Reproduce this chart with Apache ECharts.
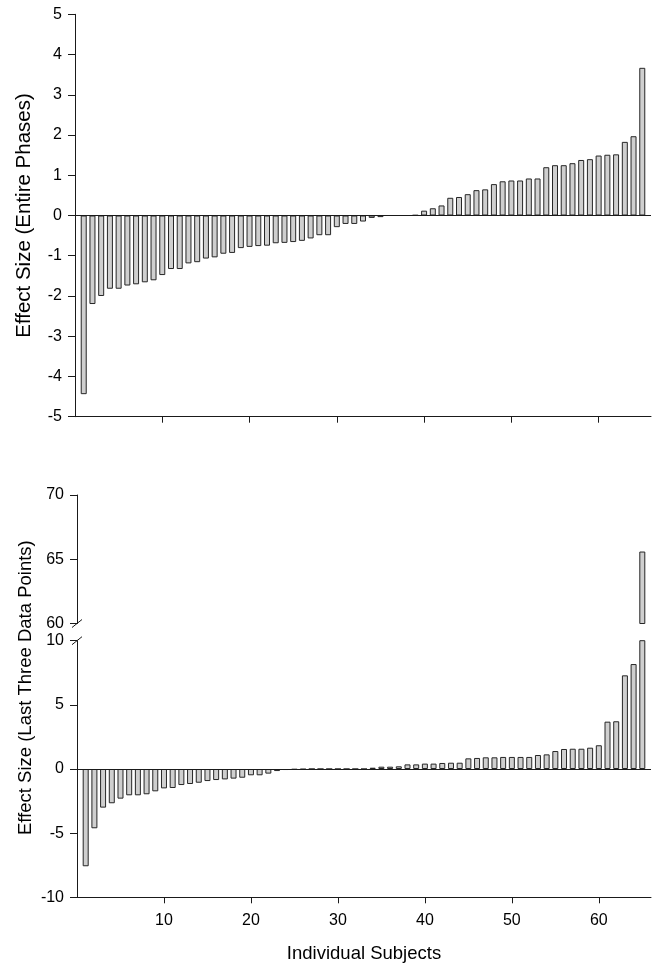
<!DOCTYPE html>
<html><head><meta charset="utf-8">
<script src="https://cdn.jsdelivr.net/npm/echarts@6/dist/echarts.min.js"></script>
<style>html,body{margin:0;padding:0;background:#fff}#c{width:662px;height:974px}</style>
</head><body><div id="c"></div>
<script>
// Subjects 1..65
const subjects = Array.from({length: 65}, (_, i) => i + 1);
// Effect size computed on entire phases (top panel)
const entirePhases = [
  -4.44,-2.20,-2.00,-1.82,-1.82,-1.74,-1.71,-1.66,-1.61,-1.48,
  -1.33,-1.33,-1.19,-1.16,-1.07,-1.04,-0.95,-0.93,-0.81,-0.78,
  -0.76,-0.75,-0.69,-0.68,-0.66,-0.63,-0.57,-0.49,-0.49,-0.29,
  -0.21,-0.21,-0.15,-0.06,-0.04,0,0,0,0.01,0.12,
  0.18,0.25,0.44,0.46,0.53,0.63,0.65,0.78,0.85,0.87,
  0.87,0.92,0.92,1.20,1.25,1.25,1.30,1.38,1.40,1.49,
  1.51,1.52,1.83,1.97,3.67
];
// Effect size computed on last three data points (bottom panel)
const lastThree = [
  -7.58,-4.62,-3.01,-2.67,-2.31,-2.05,-2.05,-1.97,-1.74,-1.51,
  -1.48,-1.25,-1.17,-1.07,-0.94,-0.86,-0.81,-0.75,-0.68,-0.49,
  -0.49,-0.36,-0.16,-0.08,-0.05,-0.03,0,0,0,0,
  0,0,0,0.10,0.18,0.18,0.21,0.36,0.36,0.42,
  0.42,0.47,0.49,0.49,0.83,0.86,0.91,0.91,0.94,0.94,
  0.94,0.94,1.09,1.14,1.40,1.56,1.58,1.58,1.66,1.85,
  3.69,3.72,7.30,8.18,65.6
];
const xTickValues = [10, 20, 30, 40, 50, 60];
const topYTicks = [-5, 5, 1];        // min, max, interval
const bottomUpperYTicks = [60, 70, 5];
const bottomLowerYTicks = [-10, 10, 5];

const FONT = "'Liberation Sans', Arial, sans-serif";
const AX = '#1a1a1a';
const BAR_FILL = '#cfcfcf';
const BAR_BORDER = '#262626';

const chart = echarts.init(document.getElementById('c'), null, {renderer: 'canvas'});

const pairs = arr => subjects.map((s, i) => [s, arr[i]]);
const lineStyle = {color: AX, width: 1};

function yAx(gridIndex, t, extra) {
  return Object.assign({
    gridIndex, type: 'value', min: t[0], max: t[1], interval: t[2],
    axisLine: {show: true, onZero: false, lineStyle},
    axisTick: {show: true, inside: false, length: 7, lineStyle},
    axisLabel: {fontSize: 16, color: '#000', margin: 13, fontFamily: FONT},
    splitLine: {show: false}
  }, extra || {});
}
const zeroLine = {
  silent: true, symbol: ['none', 'none'], label: {show: false},
  lineStyle: {color: AX, width: 1, type: 'solid'}, data: [{yAxis: 0}], animation: false
};
const barBase = {
  type: 'bar', barWidth: 6, clip: true, animation: false,
  itemStyle: {color: BAR_FILL, borderColor: BAR_BORDER, borderWidth: 1}
};

const option = {
  animation: false,
  backgroundColor: '#fff',
  textStyle: {fontFamily: FONT},
  grid: [
    {left: 75, top: 14.3, width: 576, height: 402.4},
    {left: 77, top: 495, width: 574, height: 128.5},
    {left: 77, top: 640.7, width: 574, height: 256.6}
  ],
  xAxis: [
    {gridIndex: 0, type: 'value', min: 0, max: 66, interval: 10,
     axisLine: {show: true, onZero: false, lineStyle},
     axisTick: {show: true, length: 6, lineStyle, customValues: xTickValues},
     axisLabel: {show: false}, splitLine: {show: false}},
    {gridIndex: 1, type: 'value', min: 0, max: 66, show: false},
    {gridIndex: 2, type: 'value', min: 0, max: 66, interval: 10,
     axisLine: {show: true, onZero: false, lineStyle},
     axisTick: {show: true, length: 6, lineStyle, customValues: xTickValues},
     axisLabel: {fontSize: 16, color: '#000', margin: 15, fontFamily: FONT, customValues: xTickValues},
     splitLine: {show: false},
     name: 'Individual Subjects', nameLocation: 'middle', nameGap: 47,
     nameTextStyle: {fontSize: 18.5, color: '#000', fontFamily: FONT}}
  ],
  yAxis: [
    yAx(0, topYTicks, {name: 'Effect Size (Entire Phases)', nameLocation: 'middle', nameGap: 40,
      nameTextStyle: {fontSize: 20.5, color: '#000', fontFamily: FONT}}),
    yAx(1, bottomUpperYTicks),
    yAx(2, bottomLowerYTicks)
  ],
  series: [
    Object.assign({}, barBase, {name: 'Entire Phases', xAxisIndex: 0, yAxisIndex: 0, data: pairs(entirePhases), markLine: zeroLine}),
    Object.assign({}, barBase, {name: 'Last Three (upper)', xAxisIndex: 1, yAxisIndex: 1, data: pairs(lastThree)}),
    Object.assign({}, barBase, {name: 'Last Three', xAxisIndex: 2, yAxisIndex: 2, data: pairs(lastThree), markLine: zeroLine})
  ]
};
chart.setOption(option);

// axis-break slashes and the second y title
const pUp = chart.convertToPixel({gridIndex: 1}, [0, bottomUpperYTicks[0]]);
const pLo = chart.convertToPixel({gridIndex: 2}, [0, bottomLowerYTicks[1]]);
const slash = p => ({type: 'line', silent: true,
  shape: {x1: p[0] - 5, y1: p[1] + 4, x2: p[0] + 5, y2: p[1] - 4},
  style: {stroke: AX, lineWidth: 1}});
const topUp = chart.convertToPixel({gridIndex: 1}, [0, bottomUpperYTicks[1]]);
const botLo = chart.convertToPixel({gridIndex: 2}, [0, bottomLowerYTicks[0]]);
const midY = (topUp[1] + botLo[1]) / 2 - 8.5;
chart.setOption({
  graphic: [
    slash(pUp), slash(pLo),
    {type: 'text', x: 26, y: midY, rotation: Math.PI / 2, silent: true,
     style: {text: 'Effect Size (Last Three Data Points)', fill: '#000',
       font: "18.5px 'Liberation Sans', Arial, sans-serif",
       align: 'center', verticalAlign: 'middle', textAlign: 'center', textVerticalAlign: 'middle'}}
  ]
});
</script>
</body></html>
